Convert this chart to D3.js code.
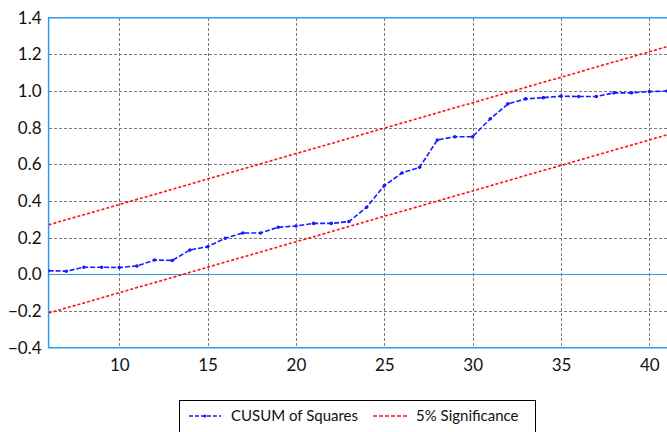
<!DOCTYPE html>
<html><head><meta charset="utf-8">
<script src="https://cdn.jsdelivr.net/npm/d3@7"></script>
<style>body{margin:0;background:#fff;}svg{display:block;}</style>
</head><body>
<svg id="c" width="667" height="432"></svg>
<script>
const periods = [6,7,8,9,10,11,12,13,14,15,16,17,18,19,20,21,22,23,24,25,26,27,28,29,30,31,32,33,34,35,36,37,38,39,40,41];
const cusumSq = [0.020,0.017,0.039,0.039,0.037,0.046,0.078,0.076,0.133,0.151,0.197,0.226,0.226,0.257,0.264,0.278,0.278,0.288,0.366,0.484,0.553,0.584,0.733,0.751,0.751,0.849,0.930,0.957,0.964,0.972,0.970,0.970,0.990,0.990,0.997,1.000];
const upper5 = [0.270,0.298,0.325,0.353,0.381,0.409,0.436,0.464,0.492,0.520,0.548,0.575,0.603,0.631,0.659,0.686,0.714,0.742,0.770,0.798,0.825,0.853,0.881,0.909,0.936,0.964,0.992,1.020,1.048,1.075,1.103,1.131,1.159,1.186,1.214,1.242];
const lower5 = [-0.211,-0.183,-0.156,-0.128,-0.100,-0.072,-0.045,-0.017,0.011,0.039,0.067,0.094,0.122,0.150,0.178,0.205,0.233,0.261,0.289,0.317,0.344,0.372,0.400,0.428,0.455,0.483,0.511,0.539,0.567,0.594,0.622,0.650,0.678,0.705,0.733,0.761];
const xTicks = [10,15,20,25,30,35,40];
const yTicks = [-0.4,-0.2,0.0,0.2,0.4,0.6,0.8,1.0,1.2,1.4];
const seriesNames = ["CUSUM of Squares","5% Significance"];

const svg = d3.select("#c");
const font = "Lato, 'Open Sans', sans-serif";
const x = d3.scaleLinear().domain([6,41]).range([48.6,667]);
const y = d3.scaleLinear().domain([-0.4,1.4]).range([347.7,17.7]);
const axisBlue = "#2f9bef";

// grid
const gx = svg.append("g")
  .attr("transform","translate(0,17.7)")
  .call(d3.axisBottom(x).tickValues(xTicks).tickSize(330).tickFormat(""));
gx.select(".domain").remove();
gx.selectAll(".tick line").attr("stroke","#7a7a7a").attr("stroke-dasharray","3,2").attr("stroke-width",1).attr("shape-rendering","crispEdges");

const gy = svg.append("g")
  .attr("transform","translate(48.6,0)")
  .call(d3.axisRight(y).tickValues(yTicks.filter(v=>v>-0.35 && v<1.35)).tickSize(620).tickFormat(""));
gy.select(".domain").remove();
gy.selectAll(".tick line").attr("stroke","#7a7a7a").attr("stroke-dasharray","3,2").attr("stroke-width",1).attr("shape-rendering","crispEdges");

// zero line
svg.append("line").attr("x1",x(6)).attr("x2",667).attr("y1",y(0)).attr("y2",y(0))
  .attr("stroke",axisBlue).attr("stroke-width",1).attr("shape-rendering","crispEdges");

// frame
svg.append("path")
  .attr("d",`M667,${y(1.4)}H${x(6)}V${y(-0.4)}H667`)
  .attr("fill","none").attr("stroke",axisBlue).attr("stroke-width",1.5);

// tick labels
const yl = svg.append("g")
  .attr("transform","translate(48.6,0)")
  .call(d3.axisLeft(y).tickValues(yTicks).tickSize(0).tickPadding(7).tickFormat(d3.format(".1f")));
yl.select(".domain").remove();
yl.selectAll("text").attr("font-family",font).attr("font-size",17).attr("fill","#111");

const xl = svg.append("g")
  .attr("transform",`translate(0,${y(-0.4)})`)
  .call(d3.axisBottom(x).tickValues(xTicks).tickSize(0).tickPadding(11).tickFormat(d3.format("d")));
xl.select(".domain").remove();
xl.selectAll("text").attr("font-family",font).attr("font-size",17).attr("fill","#111");

// lines
const line = d3.line().x((d,i)=>x(periods[i])).y(d=>y(d));
const clip = svg.append("clipPath").attr("id","pc").append("rect")
  .attr("x",x(6)).attr("y",y(1.4)).attr("width",667-x(6)).attr("height",y(-0.4)-y(1.4));
const plot = svg.append("g").attr("clip-path","url(#pc)");
[upper5,lower5].forEach(s=>{
  plot.append("path").datum(s).attr("d",line).attr("fill","none")
    .attr("stroke","#ff1010").attr("stroke-width",1.6).attr("stroke-dasharray","3,2");
});
plot.append("path").datum(cusumSq).attr("d",line).attr("fill","none")
  .attr("stroke","#1a1aff").attr("stroke-width",1.6).attr("stroke-dasharray","5,2");
plot.selectAll("circle.m").data(cusumSq).join("circle").attr("class","m")
  .attr("cx",(d,i)=>x(periods[i])).attr("cy",d=>y(d)).attr("r",1.8).attr("fill","#1a1aff");

// legend
const lg = svg.append("g");
lg.append("rect").attr("x",179.5).attr("y",400.5).attr("width",356).attr("height",40)
  .attr("fill","#fff").attr("stroke","#000").attr("stroke-width",1);
lg.append("line").attr("x1",189).attr("x2",221).attr("y1",416).attr("y2",416)
  .attr("stroke","#1a1aff").attr("stroke-width",1.5).attr("stroke-dasharray","4,2");
lg.append("circle").attr("cx",205).attr("cy",416).attr("r",1.6).attr("fill","#1a1aff");
lg.append("text").attr("x",231).attr("y",416).attr("dy","0.35em").text(seriesNames[0])
  .attr("font-family",font).attr("font-size",15).attr("fill","#111");
lg.append("line").attr("x1",373).attr("x2",407).attr("y1",416).attr("y2",416)
  .attr("stroke","#ff1010").attr("stroke-width",1.5).attr("stroke-dasharray","4,2");
lg.append("text").attr("x",416).attr("y",416).attr("dy","0.35em").text(seriesNames[1])
  .attr("font-family",font).attr("font-size",15).attr("fill","#111");
</script>
</body></html>
